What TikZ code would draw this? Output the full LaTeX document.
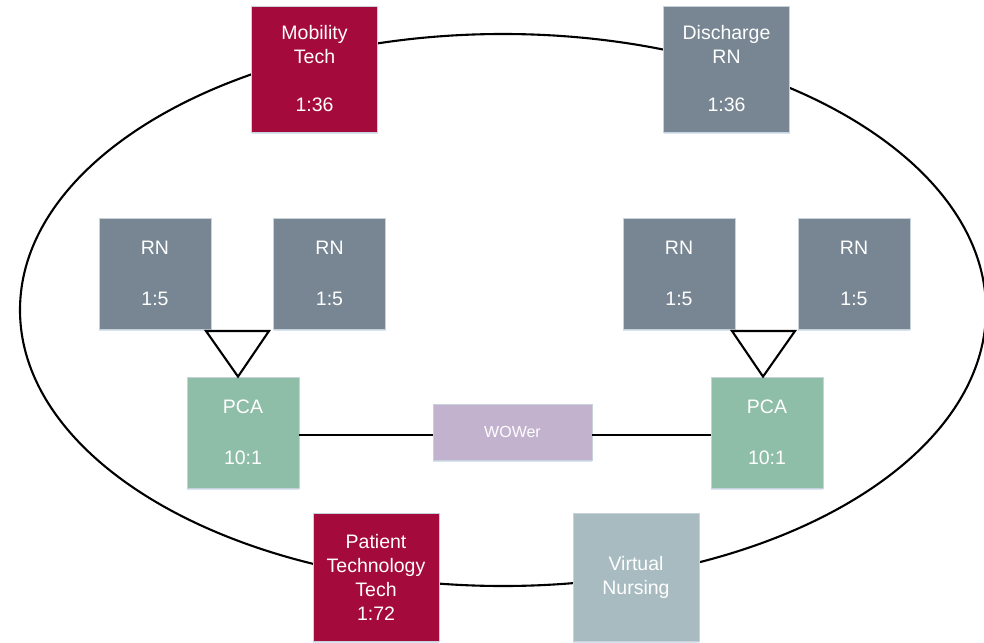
\documentclass[tikz,border=0pt]{standalone}
\usepackage{fontspec}
\setmainfont{Liberation Sans}
\definecolor{crimson}{RGB}{165,10,60}
\definecolor{slate}{RGB}{119,134,146}
\definecolor{sage}{RGB}{143,190,168}
\definecolor{lilac}{RGB}{194,178,205}
\definecolor{paleslate}{RGB}{167,187,193}
\definecolor{boxedge}{RGB}{200,210,218}
\definecolor{glow}{RGB}{215,228,242}
\begin{document}
\begin{tikzpicture}[x=1pt,y=-1pt,
  box/.style={draw=boxedge, line width=0.8pt, text=white, align=center, inner sep=0pt,
    font=\fontsize{19.5}{24}\selectfont},
  sq/.style={box, minimum width=126pt, minimum height=126pt},
  rn/.style={box, fill=slate, minimum width=112pt, minimum height=111pt},
  pca/.style={box, fill=sage, minimum width=112pt, minimum height=111pt},
  wire/.style={line width=2.1pt},
  shadowed/.style={preaction={fill=glow, transform canvas={yshift=-2pt}}}
]
\useasboundingbox (0,0) rectangle (984,642);
\draw[wire] (503,310) ellipse [x radius=483, y radius=276];

% top boxes
\node[sq, shadowed, fill=crimson] (mob) at (314.5,69) {Mobility\\Tech\\[24pt]1:36};
\node[sq, shadowed, fill=slate] (dis) at (726.5,69) {Discharge\\RN\\[24pt]1:36};

% RN boxes
\node[rn, shadowed] (rn1) at (155,273.5) {RN\\[27pt]1:5};
\node[rn, shadowed] (rn2) at (329.5,273.5) {RN\\[27pt]1:5};
\node[rn, shadowed] (rn3) at (679,273.5) {RN\\[27pt]1:5};
\node[rn, shadowed] (rn4) at (854,273.5) {RN\\[27pt]1:5};

% PCA boxes
\node[pca, shadowed] (pca1) at (243,432.5) {PCA\\[27pt]10:1};
\node[pca, shadowed] (pca2) at (767,432.5) {PCA\\[27pt]10:1};

% WOWer
\node[box, shadowed, fill=lilac, minimum width=159pt, minimum height=56pt,
  font=\fontsize{16}{19}\selectfont] (wow) at (512.5,432) {WOWer};

% bottom boxes
\node[sq, shadowed, fill=crimson, minimum height=128pt] (ptt) at (376,577) {Patient\\Technology\\Tech\\1:72};
\node[sq, shadowed, fill=paleslate, minimum height=128pt] (vn) at (636,577) {Virtual\\Nursing};

% merge triangles
\coordinate (t1a) at (206,331);
\coordinate (t1b) at (269,331);
\coordinate (t2a) at (732,331);
\coordinate (t2b) at (795,331);
\draw[wire, line join=miter] (t1a) -- (t1b) -- (pca1.north -| 238,0) -- cycle;
\draw[wire, line join=miter] (t2a) -- (t2b) -- (pca2.north -| 763,0) -- cycle;

% connectors
\coordinate (wl) at ([yshift=-3pt]wow.west);
\coordinate (wr) at ([yshift=-3pt]wow.east);
\draw[wire] (pca1.east |- wl) -- (wl);
\draw[wire] (wr) -- (pca2.west |- wr);
\end{tikzpicture}
\end{document}
